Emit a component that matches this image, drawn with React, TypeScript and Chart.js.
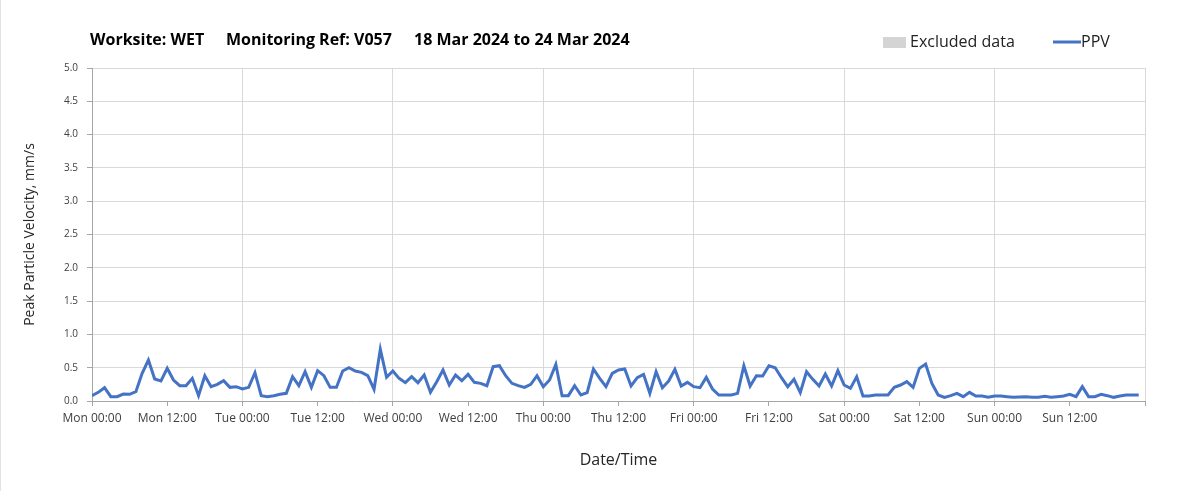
import React, { useEffect, useRef } from "react";
import { Chart, registerables } from "chart.js";

Chart.register(...registerables);

const TITLE_PARTS = ["Worksite: WET", "Monitoring Ref: V057", "18 Mar 2024 to 24 Mar 2024"];
const LEGEND_LABELS = ["Excluded data", "PPV"];
const X_TICK_LABELS = [
  "Mon 00:00", "Mon 12:00", "Tue 00:00", "Tue 12:00", "Wed 00:00", "Wed 12:00", "Thu 00:00",
  "Thu 12:00", "Fri 00:00", "Fri 12:00", "Sat 00:00", "Sat 12:00", "Sun 00:00", "Sun 12:00",
];
const Y_MIN = 0;
const Y_MAX = 5;
const Y_STEP = 0.5;
const X_HOURS = 168;
const X_STEP_HOURS = 12;

// Hourly PPV readings (mm/s), starting Mon 00:00
const PPV_VALUES = [
  0.08, 0.13, 0.2, 0.065, 0.065, 0.105, 0.1, 0.14, 0.415, 0.615,
  0.33, 0.3, 0.49, 0.315, 0.23, 0.23, 0.34, 0.08, 0.38, 0.215,
  0.25, 0.305, 0.205, 0.215, 0.18, 0.205, 0.425, 0.08, 0.065, 0.08,
  0.1, 0.115, 0.365, 0.23, 0.44, 0.205, 0.455, 0.38, 0.205, 0.205,
  0.45, 0.5, 0.45, 0.43, 0.38, 0.175, 0.775, 0.355, 0.45, 0.34,
  0.275, 0.365, 0.275, 0.39, 0.13, 0.29, 0.465, 0.24, 0.39, 0.305,
  0.4, 0.28, 0.265, 0.23, 0.515, 0.53, 0.38, 0.265, 0.23, 0.205,
  0.25, 0.38, 0.215, 0.315, 0.55, 0.08, 0.08, 0.23, 0.09, 0.125,
  0.48, 0.34, 0.215, 0.415, 0.465, 0.48, 0.225, 0.35, 0.4, 0.115,
  0.44, 0.2, 0.3, 0.475, 0.225, 0.28, 0.215, 0.2, 0.355, 0.18,
  0.09, 0.09, 0.09, 0.115, 0.53, 0.225, 0.38, 0.375, 0.53, 0.5,
  0.35, 0.215, 0.325, 0.125, 0.44, 0.325, 0.225, 0.405, 0.225, 0.455,
  0.24, 0.19, 0.365, 0.075, 0.075, 0.09, 0.09, 0.09, 0.205, 0.24,
  0.29, 0.205, 0.49, 0.555, 0.265, 0.09, 0.055, 0.08, 0.115, 0.065,
  0.13, 0.075, 0.075, 0.055, 0.075, 0.075, 0.065, 0.055, 0.06, 0.065,
  0.055, 0.055, 0.07, 0.055, 0.065, 0.075, 0.1, 0.065, 0.215, 0.065,
  0.065, 0.1, 0.08, 0.055, 0.075, 0.09, 0.09, 0.09,
];

const LINE_COLOR = "#4472C4";
const EXCLUDED_COLOR = "#d4d4d4";
const GRID_COLOR = "#d9d9d9";
const AXIS_COLOR = "#a6a6a6";

const headerPlugin = {
  id: "header",
  afterDraw(chart: any) {
    const ctx = chart.ctx;
    ctx.save();
    // left frame line
    ctx.fillStyle = "#e3e3e3";
    ctx.fillRect(0, 0, 1, chart.height);
    // title
    ctx.fillStyle = "#000000";
    ctx.textBaseline = "middle";
    ctx.textAlign = "left";
    ctx.font = "bold 16px 'Open Sans'";
    const xs = [90, 226, 414];
    const ws = [120, 166, 216];
    TITLE_PARTS.forEach((t, i) => ctx.fillText(t, xs[i], 40, ws[i]));
    // legend
    ctx.font = "16px 'Open Sans'";
    ctx.fillStyle = EXCLUDED_COLOR;
    ctx.fillRect(883, 37, 23, 11);
    ctx.fillStyle = "#222222";
    ctx.fillText(LEGEND_LABELS[0], 910, 42, 110);
    ctx.strokeStyle = LINE_COLOR;
    ctx.lineWidth = 3;
    ctx.beginPath();
    ctx.moveTo(1053, 42);
    ctx.lineTo(1081, 42);
    ctx.stroke();
    ctx.fillText(LEGEND_LABELS[1], 1081, 42, 34);
    ctx.restore();
  },
};

export default function App() {
  const canvasRef = useRef<HTMLCanvasElement | null>(null);

  useEffect(() => {
    if (!canvasRef.current) return;
    const chart = new Chart(canvasRef.current, {
      type: "line",
      data: {
        datasets: [
          {
            label: LEGEND_LABELS[1],
            data: PPV_VALUES.map((v, i) => ({ x: i, y: v })),
            borderColor: LINE_COLOR,
            backgroundColor: LINE_COLOR,
            borderWidth: 3,
            pointRadius: 0,
            tension: 0,
          },
        ],
      },
      options: {
        responsive: false,
        animation: false,
        devicePixelRatio: 1,
        layout: { padding: { top: 68, right: 58, left: 0, bottom: 0 } },
        plugins: {
          legend: { display: false },
          title: { display: false },
          tooltip: { enabled: false },
        },
        scales: {
          x: {
            type: "linear",
            min: 0,
            max: X_HOURS,
            afterFit: (scale: any) => {
              scale.height = 90;
            },
            ticks: {
              stepSize: X_STEP_HOURS,
              autoSkip: false,
              maxRotation: 0,
              padding: 5,
              color: "#404040",
              font: { family: "'Open Sans'", size: 12 },
              callback: (v: any) => X_TICK_LABELS[Math.round(Number(v) / X_STEP_HOURS)] ?? "",
            },
            grid: {
              color: (c: any) =>
                c.tick && Number(c.tick.value) % 24 === 0 ? GRID_COLOR : "rgba(0,0,0,0)",
              tickColor: AXIS_COLOR,
              tickLength: 5,
              lineWidth: 1,
            },
            border: { color: AXIS_COLOR, width: 1 },
            title: {
              display: true,
              text: "Date/Time",
              color: "#262626",
              font: { family: "'Open Sans'", size: 16 },
              padding: { top: 0, bottom: 21 },
            },
          },
          y: {
            min: Y_MIN,
            max: Y_MAX,
            afterFit: (scale: any) => {
              scale.width = 92;
            },
            ticks: {
              stepSize: Y_STEP,
              padding: 9,
              color: "#404040",
              font: { family: "'Open Sans'", size: 10 },
              callback: (v: any) => Number(v).toFixed(1),
            },
            grid: {
              color: GRID_COLOR,
              tickColor: AXIS_COLOR,
              tickLength: 5,
              lineWidth: 1,
            },
            border: { color: AXIS_COLOR, width: 1 },
            title: {
              display: true,
              text: "Peak Particle Velocity, mm/s",
              color: "#262626",
              font: { family: "'Open Sans'", size: 14 },
              padding: { top: 22, bottom: 0 },
            },
          },
        },
      },
      plugins: [headerPlugin],
    });
    return () => chart.destroy();
  }, []);

  return (
    <div style={{ position: "absolute", left: 0, top: 0, width: 1203, height: 491, background: "#ffffff" }}>
      <canvas ref={canvasRef} width={1203} height={491} style={{ display: "block" }} />
    </div>
  );
}
